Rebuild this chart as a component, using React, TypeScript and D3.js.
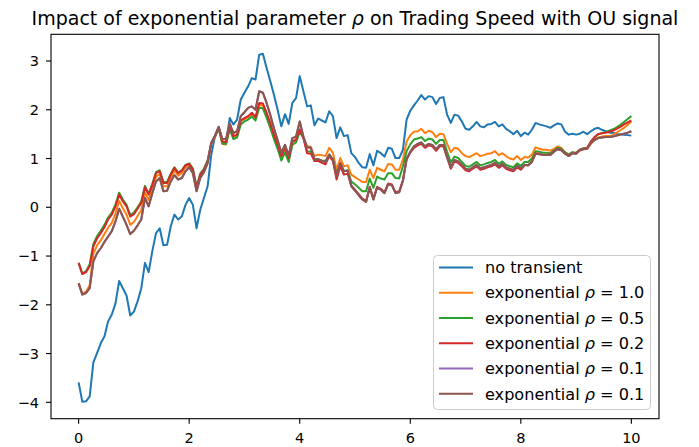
import React from 'react';
import * as d3 from 'd3';

// time grid: 151 samples over [0, 10]
const t = d3.range(151).map(i => i / 15);

const noTransient = [
  -3.59, -3.99, -3.98, -3.88, -3.18, -2.99, -2.79, -2.65, -2.34, -2.20,
  -1.97, -1.51, -1.66, -1.81, -2.22, -2.14, -1.93, -1.66, -1.14, -1.33,
  -0.90, -0.53, -0.43, -0.78, -0.77, -0.39, -0.15, -0.25, -0.19, 0.05,
  0.19, 0.05, -0.43, -0.05, 0.19, 0.43, 1.08, 1.46, 1.64, 1.35,
  1.32, 1.83, 1.70, 1.80, 2.21, 2.35, 2.48, 2.65, 2.62, 3.13,
  3.15, 2.86, 2.59, 2.31, 2.00, 1.66, 1.91, 1.71, 2.14, 2.24,
  2.69, 2.38, 2.07, 2.09, 1.68, 1.82, 1.78, 1.74, 1.97, 1.87,
  1.42, 1.64, 1.46, 1.48, 1.11, 1.03, 0.91, 0.82, 0.81, 1.09,
  0.86, 1.16, 1.11, 1.04, 1.22, 1.20, 1.01, 1.01, 1.18, 1.80,
  1.98, 2.09, 2.19, 2.30, 2.21, 2.28, 2.26, 2.12, 2.24, 2.26,
  1.90, 1.73, 1.90, 1.88, 1.76, 1.61, 1.59, 1.66, 1.75, 1.66,
  1.64, 1.70, 1.71, 1.75, 1.66, 1.70, 1.61, 1.56, 1.50, 1.57,
  1.46, 1.53, 1.49, 1.59, 1.73, 1.70, 1.68, 1.66, 1.63, 1.68,
  1.72, 1.70, 1.55, 1.49, 1.51, 1.49, 1.51, 1.55, 1.50, 1.56,
  1.61, 1.63, 1.59, 1.56, 1.53, 1.53, 1.50, 1.50, 1.49, 1.48, 1.47,
];

const rho10 = [
  -1.55, -1.77, -1.73, -1.60, -0.95, -0.78, -0.68, -0.55, -0.42, -0.32,
  -0.13, 0.13, -0.02, -0.15, -0.36, -0.30, -0.18, -0.06, 0.31, 0.15,
  0.38, 0.63, 0.68, 0.43, 0.43, 0.61, 0.75, 0.65, 0.70, 0.82,
  0.86, 0.73, 0.37, 0.64, 0.75, 0.92, 1.30, 1.44, 1.62, 1.30,
  1.29, 1.64, 1.44, 1.47, 1.76, 1.81, 1.85, 1.92, 1.83, 2.10,
  2.09, 1.90, 1.70, 1.46, 1.27, 1.04, 1.20, 1.00, 1.33, 1.38,
  1.60, 1.42, 1.25, 1.24, 1.05, 1.08, 1.07, 1.05, 1.22, 1.12,
  0.77, 1.01, 0.84, 0.86, 0.67, 0.62, 0.57, 0.52, 0.52, 0.77,
  0.60, 0.81, 0.77, 0.74, 0.89, 0.88, 0.77, 0.77, 0.98, 1.35,
  1.48, 1.55, 1.56, 1.61, 1.52, 1.57, 1.54, 1.44, 1.51, 1.50,
  1.30, 1.13, 1.22, 1.20, 1.11, 1.05, 1.03, 1.07, 1.11, 1.05,
  1.07, 1.10, 1.11, 1.15, 1.07, 1.11, 1.05, 1.00, 0.98, 1.05,
  0.97, 1.03, 1.02, 1.08, 1.23, 1.20, 1.18, 1.18, 1.16, 1.20,
  1.25, 1.22, 1.11, 1.08, 1.12, 1.11, 1.16, 1.20, 1.20, 1.30,
  1.38, 1.43, 1.45, 1.46, 1.46, 1.48, 1.53, 1.58, 1.63, 1.69, 1.76,
];

const rho05 = [
  -1.14, -1.36, -1.31, -1.17, -0.75, -0.59, -0.48, -0.36, -0.21, -0.11,
  0.06, 0.30, 0.16, 0.05, -0.16, -0.11, 0.00, 0.12, 0.44, 0.28,
  0.48, 0.72, 0.76, 0.52, 0.52, 0.69, 0.82, 0.71, 0.76, 0.87,
  0.90, 0.80, 0.42, 0.69, 0.79, 0.96, 1.32, 1.45, 1.62, 1.31,
  1.30, 1.60, 1.40, 1.43, 1.70, 1.76, 1.80, 1.86, 1.78, 2.04,
  2.03, 1.84, 1.63, 1.40, 1.20, 0.96, 1.12, 0.93, 1.28, 1.33,
  1.55, 1.42, 1.15, 1.14, 0.98, 0.98, 0.96, 0.95, 1.08, 0.98,
  0.67, 0.88, 0.74, 0.76, 0.53, 0.47, 0.40, 0.33, 0.33, 0.59,
  0.40, 0.63, 0.59, 0.57, 0.70, 0.70, 0.60, 0.59, 0.84, 1.15,
  1.29, 1.39, 1.41, 1.44, 1.36, 1.41, 1.39, 1.30, 1.38, 1.38,
  1.14, 0.92, 1.04, 1.01, 0.93, 0.85, 0.83, 0.88, 0.93, 0.86,
  0.88, 0.91, 0.93, 0.97, 0.89, 0.94, 0.87, 0.84, 0.82, 0.90,
  0.85, 0.93, 0.93, 1.00, 1.15, 1.14, 1.12, 1.12, 1.11, 1.17,
  1.22, 1.20, 1.13, 1.08, 1.13, 1.12, 1.18, 1.21, 1.22, 1.33,
  1.43, 1.50, 1.52, 1.54, 1.57, 1.60, 1.64, 1.69, 1.75, 1.81, 1.87,
];

const rho02 = [
  -1.14, -1.37, -1.33, -1.21, -0.80, -0.64, -0.53, -0.41, -0.25, -0.15,
  0.02, 0.26, 0.12, 0.02, -0.19, -0.14, -0.03, 0.09, 0.41, 0.26,
  0.46, 0.70, 0.74, 0.50, 0.50, 0.67, 0.81, 0.70, 0.75, 0.86,
  0.89, 0.77, 0.40, 0.67, 0.77, 0.94, 1.32, 1.46, 1.64, 1.35,
  1.34, 1.66, 1.46, 1.49, 1.78, 1.83, 1.87, 1.94, 1.85, 2.14,
  2.13, 1.94, 1.73, 1.49, 1.29, 1.05, 1.22, 1.01, 1.35, 1.39,
  1.59, 1.42, 1.11, 1.10, 0.95, 0.95, 0.91, 0.88, 1.05, 0.95,
  0.57, 0.84, 0.67, 0.69, 0.45, 0.36, 0.27, 0.18, 0.13, 0.42,
  0.18, 0.42, 0.38, 0.31, 0.49, 0.47, 0.31, 0.33, 0.56, 1.00,
  1.12, 1.22, 1.27, 1.30, 1.22, 1.27, 1.25, 1.16, 1.25, 1.25,
  1.01, 0.79, 0.94, 0.91, 0.84, 0.76, 0.74, 0.79, 0.84, 0.77,
  0.79, 0.82, 0.84, 0.88, 0.81, 0.86, 0.79, 0.76, 0.74, 0.82,
  0.77, 0.86, 0.86, 0.94, 1.11, 1.10, 1.08, 1.08, 1.08, 1.15,
  1.20, 1.18, 1.11, 1.06, 1.12, 1.11, 1.18, 1.20, 1.22, 1.35,
  1.44, 1.50, 1.52, 1.53, 1.55, 1.57, 1.61, 1.65, 1.70, 1.74, 1.78,
];

// both rho = 0.1 runs give the same path (the purple one sits under the brown one)
const rho01 = [
  -1.56, -1.79, -1.76, -1.66, -1.11, -0.94, -0.84, -0.71, -0.60, -0.49,
  -0.29, -0.03, -0.19, -0.36, -0.55, -0.48, -0.37, -0.25, 0.19, 0.02,
  0.29, 0.53, 0.60, 0.33, 0.34, 0.53, 0.66, 0.57, 0.60, 0.74,
  0.82, 0.70, 0.33, 0.60, 0.72, 0.90, 1.32, 1.47, 1.65, 1.40,
  1.40, 1.72, 1.52, 1.56, 1.87, 1.95, 2.04, 2.07, 2.00, 2.38,
  2.35, 2.14, 1.90, 1.62, 1.38, 1.12, 1.28, 1.06, 1.42, 1.45,
  1.76, 1.45, 1.23, 1.22, 0.98, 0.99, 0.95, 0.93, 1.08, 0.98,
  0.64, 0.91, 0.74, 0.75, 0.43, 0.34, 0.25, 0.16, 0.11, 0.40,
  0.16, 0.40, 0.36, 0.29, 0.47, 0.45, 0.29, 0.31, 0.54, 0.98,
  1.14, 1.25, 1.30, 1.33, 1.25, 1.30, 1.28, 1.19, 1.28, 1.28,
  1.04, 0.82, 0.97, 0.94, 0.87, 0.79, 0.77, 0.82, 0.87, 0.80,
  0.82, 0.85, 0.87, 0.91, 0.84, 0.89, 0.82, 0.79, 0.77, 0.85,
  0.80, 0.87, 0.86, 0.93, 1.10, 1.09, 1.07, 1.07, 1.07, 1.14,
  1.19, 1.17, 1.10, 1.05, 1.11, 1.10, 1.17, 1.19, 1.20, 1.32,
  1.38, 1.42, 1.43, 1.44, 1.44, 1.45, 1.47, 1.49, 1.51, 1.53, 1.56,
];

const seriesNames = ['no transient', 'exponential ρ = 1.0', 'exponential ρ = 0.5', 'exponential ρ = 0.2', 'exponential ρ = 0.1', 'exponential ρ = 0.1'];
const seriesValues = [noTransient, rho10, rho05, rho02, rho01, rho01];
const colors = ['#1f77b4', '#ff7f0e', '#2ca02c', '#d62728', '#9467bd', '#8c564b'];

const xTicks = [0, 2, 4, 6, 8, 10];
const yTicks = [-4, -3, -2, -1, 0, 1, 2, 3];

const W = 699;
const H = 447;
const plot = { left: 51, right: 659, top: 34.3, bottom: 418.7 };
const font = 'DejaVu Sans, sans-serif';

export default function App() {
  const x = d3.scaleLinear().domain([-0.5, 10.5]).range([plot.left, plot.right]);
  const y = d3.scaleLinear().domain([-4.336, 3.548]).range([plot.bottom, plot.top]);

  const line = d3.line<number>()
    .x((_, i) => x(t[i]))
    .y(d => y(d));

  const legendX = 433.5;
  const legendY = 255.5;
  const rowStep = 25.27;

  return (
    <svg width={W} height={H} style={{ position: 'absolute', left: 0, top: 0, background: '#fff' }} fontFamily={font}>
      <text x={(plot.left + plot.right) / 2} y={25} textAnchor="middle" fontSize={19} fill="#000">
        Impact of exponential parameter <tspan fontStyle="italic">ρ</tspan> on Trading Speed with OU signal
      </text>

      {seriesValues.map((vals, k) => (
        <path key={k} d={line(vals) || ''} fill="none" stroke={colors[k]} strokeWidth={2} strokeLinejoin="round" />
      ))}

      {/* spines */}
      <rect x={plot.left} y={plot.top} width={plot.right - plot.left} height={plot.bottom - plot.top}
        fill="none" stroke="#000" strokeWidth={1.1} />

      {xTicks.map(v => (
        <g key={'x' + v}>
          <line x1={x(v)} x2={x(v)} y1={plot.bottom} y2={plot.bottom + 5} stroke="#000" strokeWidth={1.1} />
          <text x={x(v)} y={442.5} textAnchor="middle" fontSize={14.5}>{v}</text>
        </g>
      ))}
      {yTicks.map(v => (
        <g key={'y' + v}>
          <line x1={plot.left - 5} x2={plot.left} y1={y(v)} y2={y(v)} stroke="#000" strokeWidth={1.1} />
          <text x={39} y={y(v) + 5.2} textAnchor="end" fontSize={14.5}>{v < 0 ? '−' + Math.abs(v) : v}</text>
        </g>
      ))}

      {/* legend */}
      <rect x={legendX} y={legendY} width={217} height={154} rx={4} fill="#fff" fillOpacity={0.8} stroke="#cccccc" strokeWidth={1} />
      {seriesNames.map((name, k) => {
        const cy = 267.5 + k * rowStep;
        const parts = name.split('ρ');
        return (
          <g key={'l' + k}>
            <line x1={439} x2={473} y1={cy} y2={cy} stroke={colors[k]} strokeWidth={2} />
            <text x={485} y={cy + 5.7} fontSize={16.1} fill="#000">
              {parts[0]}
              {parts.length > 1 && <tspan fontStyle="italic">ρ</tspan>}
              {parts.length > 1 && parts[1]}
            </text>
          </g>
        );
      })}
    </svg>
  );
}
